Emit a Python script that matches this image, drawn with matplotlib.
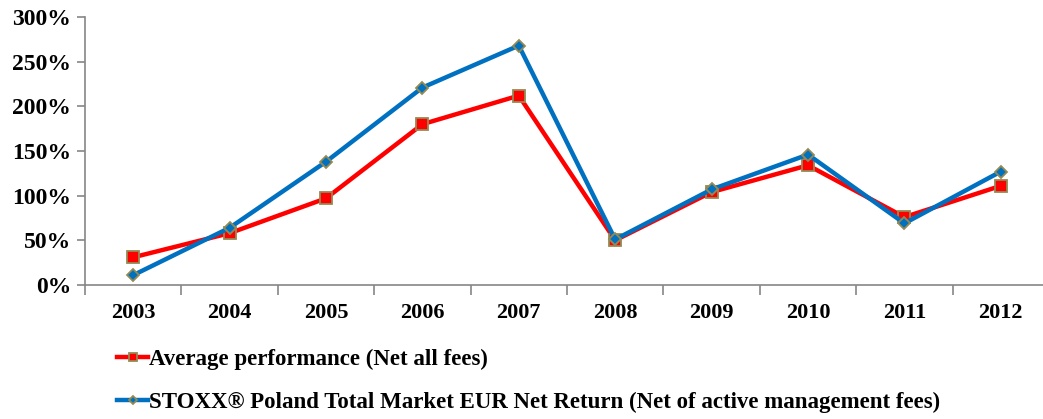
import matplotlib
matplotlib.use("Agg")
import matplotlib.pyplot as plt
from matplotlib.ticker import FuncFormatter, FixedLocator

years = ["2003", "2004", "2005", "2006", "2007", "2008", "2009", "2010", "2011", "2012"]
avg_perf = [31, 58, 97, 180, 212, 50, 104, 134, 76, 111]
stoxx = [11, 64, 138, 221, 268, 51, 107, 146, 69, 127]
labels = ["Average performance (Net all fees)",
          "STOXX® Poland Total Market EUR Net Return (Net of active management fees)"]

plt.rcParams['font.family'] = ['Liberation Serif', 'DejaVu Serif']
plt.rcParams['font.weight'] = 'bold'

W, H = 1043, 419
fig = plt.figure(figsize=(W/100, H/100), dpi=100)
ax = fig.add_axes([85/W, (H-285)/H, 964/W, 268/H])

x = list(range(len(years)))
edge = '#948A54'
ax.plot(x, avg_perf, color='#FF0000', lw=3.2, marker='s', ms=8,
        mfc='#FF0000', mec=edge, mew=1.3, label=labels[0], zorder=3)
ax.plot(x, stoxx, color='#0070C0', lw=3.2, marker='D', ms=6,
        mfc='#0070C0', mec=edge, mew=1.3, label=labels[1], zorder=4)

ax.set_xlim(-0.5, len(years) - 0.5)
ax.set_ylim(0, 300)
ax.set_yticks([0, 50, 100, 150, 200, 250, 300])
ax.yaxis.set_major_formatter(FuncFormatter(lambda v, p: f"{int(v)}%"))
ax.set_xticks(x)
ax.set_xticklabels(years)
ax.xaxis.set_minor_locator(FixedLocator([i - 0.5 for i in range(len(years) + 1)]))
ax.tick_params(axis='x', which='major', length=0, pad=13, labelsize=16)
ax.tick_params(axis='x', which='minor', length=7, width=1.2, color='#868686', direction='out')
ax.tick_params(axis='y', which='major', length=6, width=1.2, color='#868686', labelsize=17, pad=4)

for s in ['top', 'right']:
    ax.spines[s].set_visible(False)
for s in ['left', 'bottom']:
    ax.spines[s].set_color('#868686')
    ax.spines[s].set_linewidth(1.2)

leg = fig.legend(loc='upper left', bbox_to_anchor=(108/W, 1 - 340/H), frameon=False,
                 fontsize=16.5, handlelength=1.35, handletextpad=0.05, labelspacing=0.95,
                 borderaxespad=0, markerscale=0.7)
fig.savefig('out.png', dpi=100)
